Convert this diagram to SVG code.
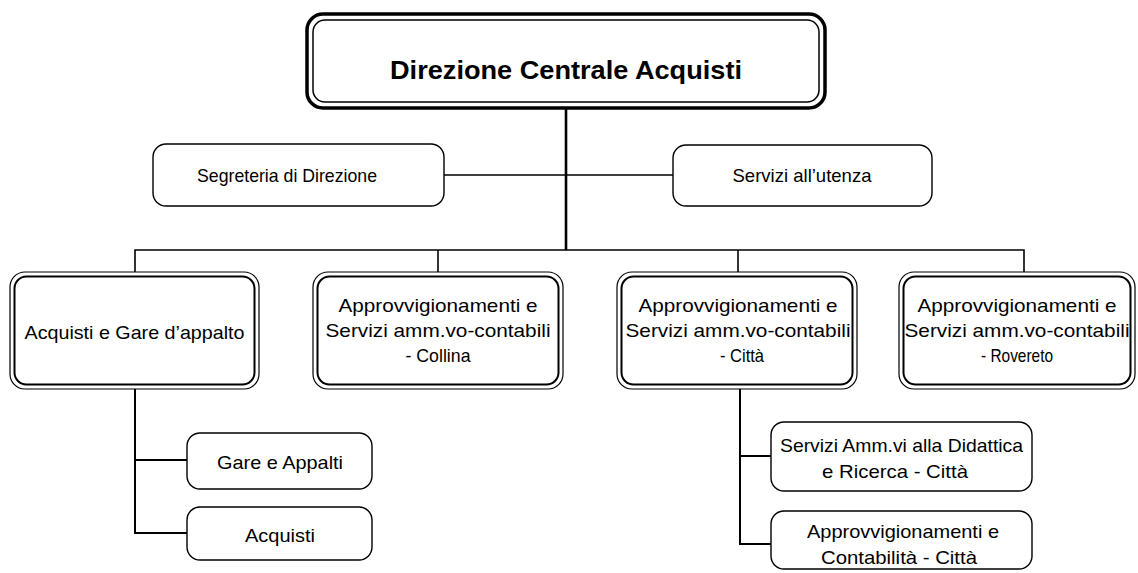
<svg xmlns="http://www.w3.org/2000/svg" width="1138" height="573" viewBox="0 0 1138 573">
<style>
.t{font-family:"Liberation Sans",Arial,sans-serif;font-size:18.5px;fill:#000;text-anchor:middle}
.b{font-family:"Liberation Sans",Arial,sans-serif;font-size:26px;font-weight:bold;fill:#000;text-anchor:middle}
.s{fill:#fff;stroke:#000;stroke-width:1.4}
.o{fill:#fff;stroke:#000;stroke-width:1.2}
.i{fill:none;stroke:#000;stroke-width:2}
.c{fill:none;stroke:#000;stroke-width:1.6}
</style>
<rect width="1138" height="573" fill="#fff"/>
<g id="connectors">
<line x1="566" y1="107" x2="566" y2="250" class="c" style="stroke-width:2.6"/>
<line x1="444" y1="175" x2="673" y2="175" class="c"/>
<polyline points="135,272 135,250 1024,250 1024,272" class="c"/>
<line x1="438" y1="250" x2="438" y2="272" class="c"/>
<line x1="738" y1="250" x2="738" y2="272" class="c"/>
<polyline points="135,389 135,533 187,533" class="c" style="stroke-width:2"/>
<line x1="135" y1="460" x2="187" y2="460" class="c" style="stroke-width:2"/>
<polyline points="740,389 740,544 771,544" class="c" style="stroke-width:2"/>
<line x1="740" y1="456" x2="771" y2="456" class="c" style="stroke-width:2"/>
</g>
<g id="n-direzione">
<rect x="307" y="14" width="518" height="94" rx="16" fill="#fff" stroke="#000" stroke-width="3.5"/>
<rect x="313" y="20" width="506" height="82" rx="12" fill="none" stroke="#000" stroke-width="1.5"/>
<text x="566" y="79" class="b" textLength="352" lengthAdjust="spacingAndGlyphs">Direzione Centrale Acquisti</text>
</g>
<g id="n-segreteria">
<rect x="153" y="144" width="291" height="62" rx="13" class="s"/>
<text x="287" y="182" class="t" textLength="180" lengthAdjust="spacingAndGlyphs">Segreteria di Direzione</text>
</g>
<g id="n-servizi">
<rect x="673" y="145" width="259" height="61" rx="13" class="s"/>
<text x="802" y="182" class="t" textLength="139" lengthAdjust="spacingAndGlyphs">Servizi all’utenza</text>
</g>
<g id="n-acq-gare">
<rect x="10" y="272" width="249" height="117" rx="15" class="o"/>
<rect x="14.5" y="276.5" width="240" height="108" rx="12" class="i"/>
<text x="134.5" y="339" class="t" textLength="220" lengthAdjust="spacingAndGlyphs">Acquisti e Gare d’appalto</text>
</g>
<g id="n-collina">
<rect x="313" y="272" width="250" height="117" rx="15" class="o"/>
<rect x="317.5" y="276.5" width="241" height="108" rx="12" class="i"/>
<text x="438" y="312" class="t" textLength="199" lengthAdjust="spacingAndGlyphs">Approvvigionamenti e</text>
<text x="438" y="337" class="t" textLength="225" lengthAdjust="spacingAndGlyphs">Servizi amm.vo-contabili</text>
<text x="438" y="362" class="t" textLength="65" lengthAdjust="spacingAndGlyphs">- Collina</text>
</g>
<g id="n-citta">
<rect x="617" y="272" width="240" height="117" rx="15" class="o"/>
<rect x="621.5" y="276.5" width="231" height="108" rx="12" class="i"/>
<text x="738" y="312" class="t" textLength="199" lengthAdjust="spacingAndGlyphs">Approvvigionamenti e</text>
<text x="738" y="337" class="t" textLength="225" lengthAdjust="spacingAndGlyphs">Servizi amm.vo-contabili</text>
<text x="742" y="362" class="t" textLength="44" lengthAdjust="spacingAndGlyphs">- Città</text>
</g>
<g id="n-rovereto">
<rect x="899" y="272" width="236" height="117" rx="15" class="o"/>
<rect x="903.5" y="276.5" width="227" height="108" rx="12" class="i"/>
<text x="1017" y="312" class="t" textLength="199" lengthAdjust="spacingAndGlyphs">Approvvigionamenti e</text>
<text x="1017" y="337" class="t" textLength="225" lengthAdjust="spacingAndGlyphs">Servizi amm.vo-contabili</text>
<text x="1017" y="362" class="t" textLength="72" lengthAdjust="spacingAndGlyphs">- Rovereto</text>
</g>
<g id="n-gare">
<rect x="187" y="433" width="185" height="56" rx="13" class="s"/>
<text x="280" y="469" class="t" textLength="126" lengthAdjust="spacingAndGlyphs">Gare e Appalti</text>
</g>
<g id="n-acquisti">
<rect x="187" y="507" width="185" height="53" rx="13" class="s"/>
<text x="280" y="542" class="t" textLength="70" lengthAdjust="spacingAndGlyphs">Acquisti</text>
</g>
<g id="n-didattica">
<rect x="771" y="422" width="261" height="69" rx="13" class="s"/>
<text x="901.5" y="452" class="t" textLength="243" lengthAdjust="spacingAndGlyphs">Servizi Amm.vi alla Didattica</text>
<text x="895" y="478" class="t" textLength="146" lengthAdjust="spacingAndGlyphs">e Ricerca - Città</text>
</g>
<g id="n-contabilita">
<rect x="771" y="511" width="261" height="58" rx="13" class="s"/>
<text x="903" y="538" class="t" textLength="192" lengthAdjust="spacingAndGlyphs">Approvvigionamenti e</text>
<text x="899" y="564" class="t" textLength="156" lengthAdjust="spacingAndGlyphs">Contabilità - Città</text>
</g>
</svg>
